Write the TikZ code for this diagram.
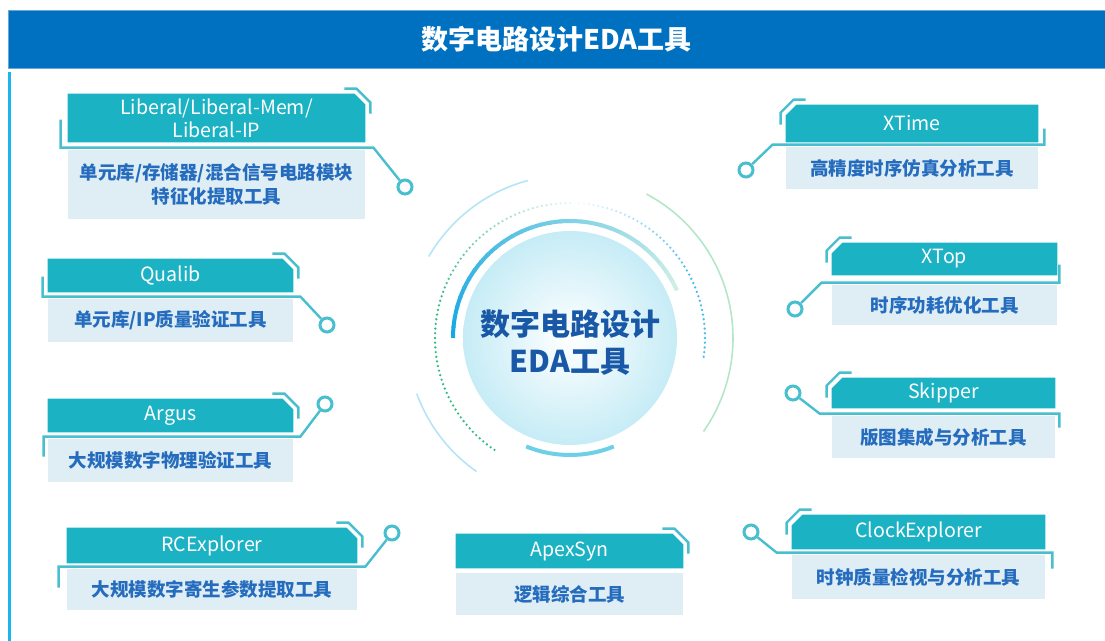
\documentclass[tikz,border=0pt]{standalone}
\usepackage{fontspec}
\setmainfont{Noto Sans CJK SC}
\usetikzlibrary{backgrounds}

\definecolor{bannerblue}{RGB}{0,112,192}
\definecolor{hdrteal}{RGB}{27,178,196}
\definecolor{wireteal}{RGB}{72,190,206}
\definecolor{bodybg}{RGB}{222,238,244}
\definecolor{bodyblue}{RGB}{38,108,190}
\definecolor{railblue}{RGB}{26,181,240}
\definecolor{ctrblue}{RGB}{24,88,166}
\definecolor{diskc}{RGB}{198,236,246}
\definecolor{arcblue}{RGB}{20,168,228}
\definecolor{arcpale}{RGB}{205,238,230}
\definecolor{arccyan}{RGB}{110,208,230}
\definecolor{dotgreen}{RGB}{55,188,128}
\definecolor{dotblue}{RGB}{70,188,240}
\definecolor{outerblue}{RGB}{180,228,245}
\definecolor{outergreen}{RGB}{180,230,200}

\tikzset{
  hdr/.style={text=white, font=\fontsize{9.8}{11.5}\selectfont, align=center, inner sep=0pt},
  body/.style={fill=bodybg, text=bodyblue, font=\bfseries\fontsize{9.25}{12}\selectfont, align=center, inner sep=0pt},
  wire/.style={draw=wireteal, line width=1.2pt},
  ringdot/.style={circle, draw=wireteal, line width=1.5pt, fill=white, minimum size=7pt, inner sep=0pt},
}

\begin{document}
\begin{tikzpicture}[x=0.5pt, y=-0.5pt]
    \useasboundingbox (0,0) rectangle (1105,641);

    % Banner and left rail
    \node[fill=bannerblue, draw=bannerblue!60!white, minimum width=548.5pt, minimum height=29pt,
          text=white, font=\bfseries\fontsize{13.5}{15}\selectfont] (banner) at (556.5,39) {数字电路设计EDA工具};
    \draw[railblue, line width=1.4pt] (9.5,72) -- (9.5,641);

    % Centre badge
    \begin{scope}[shift={(570,338)}, y=0.5pt]
        \shade[inner color=white, outer color=diskc] (0,0) circle (107);
        \foreach \a in {0,5,...,150} {
            \pgfmathsetmacro\p{100-\a/1.5}
            \draw[line width=2pt, arcblue!\p!arcpale] ({180-\a}:117) arc[start angle=180-\a, end angle=174-\a, radius=117];
        }
        \draw[line width=2pt, arccyan] (248:117) arc[start angle=248, end angle=292, radius=117];
        \foreach \a in {90,92,...,236} {
            \pgfmathsetmacro\p{min(100,(\a-80)*1.2)}
            \fill[dotgreen!\p!white] (\a:135) circle (1.3);
        }
        \foreach \a in {-8,-6,...,88} {
            \pgfmathsetmacro\p{min(100,(90-\a)*1.6)}
            \fill[dotblue!\p!white] (\a:135) circle (1.3);
        }
        \draw[outerblue, line width=0.8pt] (150:163) arc[start angle=150, end angle=105, radius=163];
        \draw[outergreen, line width=0.8pt] (62:163) arc[start angle=62, end angle=-35, radius=163];
        \draw[outerblue, line width=0.8pt] (200:163) arc[start angle=200, end angle=235, radius=163];
        \node[font=\bfseries\fontsize{15}{18.5}\selectfont, text=ctrblue, align=center] (ctrtxt) at (0,-5) {数字电路设计\\EDA工具};
    \end{scope}

    % Left column
    \node[hdr, minimum width=148.5pt, minimum height=24pt] (h1) at (216.5,118) {Liberal/Liberal-Mem/\\Liberal-IP};
    \node[body, minimum width=148.5pt, minimum height=34.5pt] (b1) at (216.5,184.5) {单元库/存储器/混合信号电路模块\\特征化提取工具};
    \node[hdr, minimum width=122.5pt, minimum height=16.5pt] (h2) at (170.5,275.5) {Qualib};
    \node[body, minimum width=122.5pt, minimum height=21.5pt] (b2) at (170.5,320.5) {单元库/IP质量验证工具};
    \node[hdr, minimum width=122.5pt, minimum height=16.5pt] (h3) at (170.5,415.5) {Argus};
    \node[body, minimum width=122.5pt, minimum height=21.5pt] (b3) at (170.5,460.5) {大规模数字物理验证工具};
    \node[hdr, minimum width=145pt, minimum height=17.5pt] (h4) at (212,545.5) {RCExplorer};
    \node[body, minimum width=145pt, minimum height=20.5pt] (b4) at (212,589.5) {大规模数字寄生参数提取工具};

    % Bottom middle
    \node[hdr, minimum width=113.5pt, minimum height=17pt] (h9) at (569.5,551) {ApexSyn};
    \node[body, minimum width=113.5pt, minimum height=21pt] (b9) at (569.5,594) {逻辑综合工具};

    % Right column
    \node[hdr, minimum width=126pt, minimum height=18.5pt] (h5) at (912,123.5) {XTime};
    \node[body, minimum width=126pt, minimum height=21pt] (b5) at (912,168) {高精度时序仿真分析工具};
    \node[hdr, minimum width=112.5pt, minimum height=16pt] (h6) at (944.5,259) {XTop};
    \node[body, minimum width=112.5pt, minimum height=20pt] (b6) at (944.5,305) {时序功耗优化工具};
    \node[hdr, minimum width=111.5pt, minimum height=15pt] (h7) at (943.5,393) {Skipper};
    \node[body, minimum width=111.5pt, minimum height=21pt] (b7) at (943.5,437) {版图集成与分析工具};
    \node[hdr, minimum width=126.5pt, minimum height=17pt] (h8) at (918.5,532) {ClockExplorer};
    \node[body, minimum width=126.5pt, minimum height=22pt] (b8) at (918.5,577) {时钟质量检视与分析工具};

    % Header plates with a cut corner, and their corner brackets
    \begin{scope}[on background layer]
        \foreach \h in {h1,h2,h3,h4,h9}
            \fill[hdrteal] (\h.south west) -- (\h.north west) -- ([xshift=-5.5pt]\h.north east) -- ([yshift=-5.5pt]\h.north east) -- (\h.south east) -- cycle;
        \foreach \h in {h5,h6,h7,h8}
            \fill[hdrteal] (\h.south east) -- (\h.north east) -- ([xshift=5.5pt]\h.north west) -- ([yshift=-5.5pt]\h.north west) -- (\h.south west) -- cycle;
    \end{scope}
    \foreach \h in {h1,h2,h3,h4,h9}
        \draw[wire] ([xshift=-10.5pt,yshift=2.5pt]\h.north east) -- ([xshift=-4.5pt,yshift=2.5pt]\h.north east)
            -- ([xshift=2.5pt,yshift=-4.5pt]\h.north east) -- ([xshift=2.5pt,yshift=-10pt]\h.north east);
    \foreach \h in {h5,h6,h7,h8}
        \draw[wire] ([xshift=10pt,yshift=2.5pt]\h.north west) -- ([xshift=4pt,yshift=2.5pt]\h.north west)
            -- ([xshift=-2.5pt,yshift=-4pt]\h.north west) -- ([xshift=-2.5pt,yshift=-10pt]\h.north west);

    % Pads
    \node[ringdot] (c1) at (405,187) {};
    \node[ringdot] (c2) at (327,325) {};
    \node[ringdot] (c3) at (325,404) {};
    \node[ringdot] (c4) at (392,533) {};
    \node[ringdot] (c5) at (746,170) {};
    \node[ringdot] (c6) at (795,309) {};
    \node[ringdot] (c7) at (793,393) {};
    \node[ringdot] (c8) at (751,532) {};

    % Traces from each card to its pad
    \draw[wire] ([xshift=-3.5pt,yshift=15pt]b1.north west) -- ([xshift=-3.5pt,yshift=1pt]b1.north west) -- ([xshift=4pt,yshift=1pt]b1.north east) -- (c1);
    \draw[wire] ([xshift=-2.5pt,yshift=11pt]b2.north west) -- ([xshift=-2.5pt,yshift=1pt]b2.north west) -- ([xshift=3.5pt,yshift=1pt]b2.north east) -- (c2);
    \draw[wire] ([xshift=-2pt,yshift=-9pt]b3.north west) -- ([xshift=-2pt,yshift=1pt]b3.north west) -- ([xshift=3.5pt,yshift=1pt]b3.north east) -- (c3);
    \draw[wire] ([xshift=-4pt,yshift=-9.5pt]b4.north west) -- ([xshift=-4pt,yshift=1pt]b4.north west) -- ([xshift=4pt,yshift=1pt]b4.north east) -- (c4);
    \draw[wire] ([xshift=3pt,yshift=9pt]b5.north east) -- ([xshift=3pt,yshift=1pt]b5.north east) -- ([xshift=-6.5pt,yshift=1pt]b5.north west) -- (c5);
    \draw[wire] ([xshift=1pt,yshift=10pt]b6.north east) -- ([xshift=1pt,yshift=1pt]b6.north east) -- ([xshift=-5pt,yshift=1pt]b6.north west) -- (c6);
    \draw[wire] ([xshift=2pt,yshift=-6pt]b7.north east) -- ([xshift=2pt,yshift=1pt]b7.north east) -- ([xshift=-6pt,yshift=1pt]b7.north west) -- (c7);
    \draw[wire] ([xshift=3.5pt,yshift=-7pt]b8.north east) -- ([xshift=3.5pt,yshift=1pt]b8.north east) -- ([xshift=-7.5pt,yshift=1pt]b8.north west) -- (c8);
\end{tikzpicture}
\end{document}
